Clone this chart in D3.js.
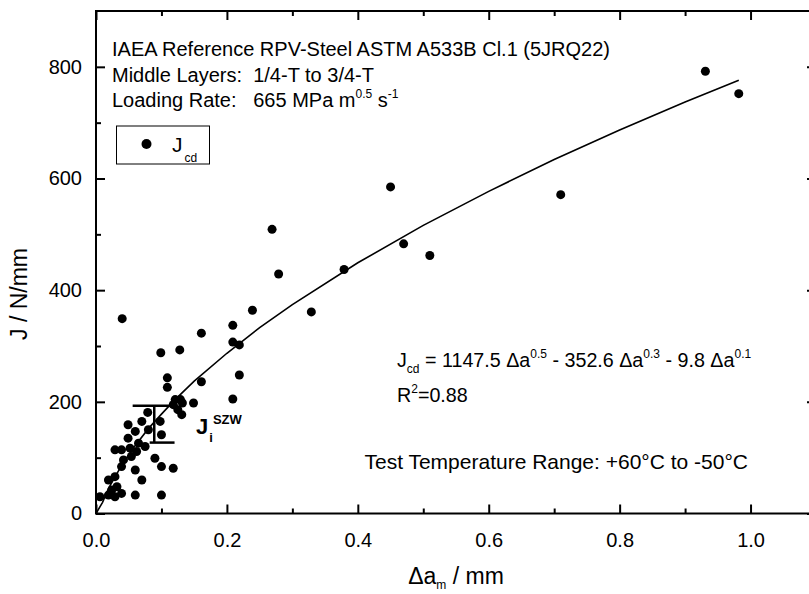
<!DOCTYPE html>
<html>
<head>
<meta charset="utf-8">
<script src="https://cdn.jsdelivr.net/npm/d3@7"></script>
<style>
  body { margin: 0; background: #fff; }
  svg { display: block; }
  text { font-family: "Liberation Sans", Arial, sans-serif; fill: #000; }
</style>
</head>
<body>
<div id="chart"></div>
<script>
const crackExt = [0.040, 0.099, 0.128, 0.161, 0.209, 0.209, 0.219, 0.239, 0.269, 0.279,
  0.329, 0.379, 0.450, 0.470, 0.510, 0.710, 0.931, 0.982, 0.219, 0.209,
  0.161, 0.109, 0.109, 0.121, 0.129, 0.132, 0.149, 0.125, 0.131, 0.118,
  0.079, 0.070, 0.049, 0.098, 0.100, 0.080, 0.060, 0.049, 0.065, 0.052,
  0.075, 0.029, 0.039, 0.062, 0.042, 0.054, 0.090, 0.039, 0.060, 0.100,
  0.118, 0.029, 0.019, 0.070, 0.032, 0.024, 0.039, 0.060, 0.100, 0.019,
  0.006, 0.029];
const jValues = [349, 288, 293, 323, 307, 337, 302, 364, 509, 429,
  361, 437, 585, 483, 462, 571, 792, 752, 248, 205,
  236, 243, 226, 204, 204, 198, 198, 186, 177, 195,
  181, 165, 159, 165, 141, 150, 147, 135, 126, 117,
  120, 114, 114, 111, 96, 102, 99, 84, 78, 84,
  81, 66, 60, 60, 48, 42, 36, 33, 33, 33,
  30, 30];

// fitted curve
const fitX = [0, 0.01, 0.02, 0.04, 0.06, 0.08, 0.10, 0.12, 0.15, 0.20, 0.25, 0.30,
  0.40, 0.50, 0.60, 0.70, 0.80, 0.90, 0.982];
const fitJ = [0, 20, 47, 88, 122, 152, 178, 203, 237, 287, 333, 374,
  449, 516, 577, 634, 687, 737, 776];

// J_i SZW bracket
const szwTop = 193, szwBottom = 127, szwX = 0.089;
const szwTopCap = [0.056, 0.125], szwBottomCap = [0.082, 0.120];

const xMajor = [0, 0.2, 0.4, 0.6, 0.8, 1.0];
const xMinor = [0.1, 0.3, 0.5, 0.7, 0.9];
const yMajor = [0, 200, 400, 600, 800];
const yMinor = [100, 300, 500, 700];

const width = 809, height = 594;
const margin = {left: 96, top: 11, right: width - 816, bottom: height - 513.5};

const x = d3.scaleLinear().domain([0, 1.1]).range([margin.left, width - margin.right]);
const y = d3.scaleLinear().domain([0, 900]).range([height - margin.bottom, margin.top]);

const svg = d3.select('#chart').append('svg')
  .attr('width', width)
  .attr('height', height);

// frame
svg.append('rect')
  .attr('x', x(0)).attr('y', y(900))
  .attr('width', x(1.1) - x(0)).attr('height', y(0) - y(900))
  .attr('fill', 'none').attr('stroke', '#000').attr('stroke-width', 2);

function tickAxis(axis, g, vals, len, fmt) {
  g.call(axis.tickValues(vals).tickSizeInner(len).tickSizeOuter(0).tickFormat(fmt))
    .call(s => s.select('.domain').remove())
    .call(s => s.selectAll('line').attr('stroke', '#000').attr('stroke-width', 2));
}

// bottom (labels) and top ticks
const gxb = svg.append('g').attr('transform', `translate(0,${y(0)})`);
tickAxis(d3.axisBottom(x), gxb, xMajor, -9, d3.format('.1f'));
gxb.selectAll('text').attr('y', 19).attr('font-size', 20);
tickAxis(d3.axisBottom(x), svg.append('g').attr('transform', `translate(0,${y(0)})`), xMinor, -5, () => '');
tickAxis(d3.axisTop(x), svg.append('g').attr('transform', `translate(0,${y(900)})`), xMajor, -9, () => '');
tickAxis(d3.axisTop(x), svg.append('g').attr('transform', `translate(0,${y(900)})`), xMinor, -5, () => '');

// left (labels) and right ticks
const gyl = svg.append('g').attr('transform', `translate(${x(0)},0)`);
tickAxis(d3.axisLeft(y), gyl, yMajor, -9, d3.format('d'));
gyl.selectAll('text').attr('x', -14).attr('font-size', 20);
tickAxis(d3.axisLeft(y), svg.append('g').attr('transform', `translate(${x(0)},0)`), yMinor, -5, () => '');
tickAxis(d3.axisRight(y), svg.append('g').attr('transform', `translate(${x(1.1)},0)`), yMajor, -9, () => '');
tickAxis(d3.axisRight(y), svg.append('g').attr('transform', `translate(${x(1.1)},0)`), yMinor, -5, () => '');

// fit line
const fit = fitX.map((d, i) => [d, fitJ[i]]);
svg.append('path')
  .datum(fit)
  .attr('fill', 'none').attr('stroke', '#000').attr('stroke-width', 1.6)
  .attr('d', d3.line().x(d => x(d[0])).y(d => y(d[1])));

// points
const pts = crackExt.map((d, i) => ({a: d, j: jValues[i]}));
svg.append('g').selectAll('circle')
  .data(pts)
  .enter().append('circle')
  .attr('cx', d => x(d.a))
  .attr('cy', d => y(d.j))
  .attr('r', 4.5)
  .attr('fill', '#000');

// SZW bracket
const br = svg.append('g').attr('stroke', '#000').attr('stroke-width', 2.5);
br.append('line').attr('x1', x(szwTopCap[0])).attr('x2', x(szwTopCap[1])).attr('y1', y(szwTop)).attr('y2', y(szwTop));
br.append('line').attr('x1', x(szwBottomCap[0])).attr('x2', x(szwBottomCap[1])).attr('y1', y(szwBottom)).attr('y2', y(szwBottom));
br.append('line').attr('x1', x(szwX)).attr('x2', x(szwX)).attr('y1', y(szwTop)).attr('y2', y(szwBottom));

const szw = svg.append('text').attr('x', 196).attr('y', 434).attr('font-size', 22).attr('font-weight', 'bold');
szw.append('tspan').text('J');
szw.append('tspan').attr('font-size', 13).attr('dy', 8).attr('dx', 1).text('i');
szw.append('tspan').attr('font-size', 13).attr('dy', -18).attr('dx', 0).text('SZW');

// text block top left
const fs = 20;
svg.append('text').attr('x', 112).attr('y', 56).attr('font-size', fs)
  .text('IAEA Reference RPV-Steel ASTM A533B Cl.1 (5JRQ22)');
svg.append('text').attr('x', 112).attr('y', 81.5).attr('font-size', fs)
  .style('white-space', 'pre')
  .text('Middle Layers:  1/4-T to 3/4-T');
const lr = svg.append('text').attr('x', 112).attr('y', 106.5).attr('font-size', fs)
  .style('white-space', 'pre');
lr.append('tspan').text('Loading Rate:   665 MPa m');
lr.append('tspan').attr('font-size', 12).attr('dy', -9).text('0.5');
lr.append('tspan').attr('dy', 9).text(' s');
lr.append('tspan').attr('font-size', 12).attr('dy', -9).text('-1');

// legend
svg.append('rect').attr('x', 116.5).attr('y', 126).attr('width', 93).attr('height', 38)
  .attr('fill', '#fff').attr('stroke', '#000').attr('stroke-width', 1);
svg.append('circle').attr('cx', 146.5).attr('cy', 144).attr('r', 5).attr('fill', '#000');
const lg = svg.append('text').attr('x', 172).attr('y', 151.5).attr('font-size', 21);
lg.append('tspan').text('J');
lg.append('tspan').attr('font-size', 12).attr('dy', 10).attr('dx', 2).text('cd');

// equation
const eq = svg.append('text').attr('x', 397).attr('y', 366.5).attr('font-size', 19.7)
  .style('white-space', 'pre');
eq.append('tspan').text('J');
eq.append('tspan').attr('font-size', 12).attr('dy', 6).text('cd');
eq.append('tspan').attr('dy', -6).text(' = 1147.5 \u0394a');
eq.append('tspan').attr('font-size', 12).attr('dy', -9).text('0.5');
eq.append('tspan').attr('dy', 9).text(' - 352.6 \u0394a');
eq.append('tspan').attr('font-size', 12).attr('dy', -9).text('0.3');
eq.append('tspan').attr('dy', 9).text(' - 9.8 \u0394a');
eq.append('tspan').attr('font-size', 12).attr('dy', -9).text('0.1');

const r2 = svg.append('text').attr('x', 397).attr('y', 401.5).attr('font-size', 19.7);
r2.append('tspan').text('R');
r2.append('tspan').attr('font-size', 12).attr('dy', -9).text('2');
r2.append('tspan').attr('dy', 9).text('=0.88');

svg.append('text').attr('x', 748).attr('y', 469).attr('font-size', 21)
  .attr('text-anchor', 'end')
  .text('Test Temperature Range: +60\u00b0C to -50\u00b0C');

// axis titles
svg.append('text')
  .attr('transform', 'translate(27,294) rotate(-90)')
  .attr('text-anchor', 'middle').attr('font-size', 23)
  .text('J / N/mm');

const xt = svg.append('text').attr('x', (x(0) + x(1.1)) / 2).attr('y', 584)
  .attr('text-anchor', 'middle').attr('font-size', 23).style('white-space', 'pre');
xt.append('tspan').text('\u0394a');
xt.append('tspan').attr('font-size', 12).attr('dy', 5).text('m');
xt.append('tspan').attr('dy', -5).text(' / mm');
</script>
</body>
</html>
